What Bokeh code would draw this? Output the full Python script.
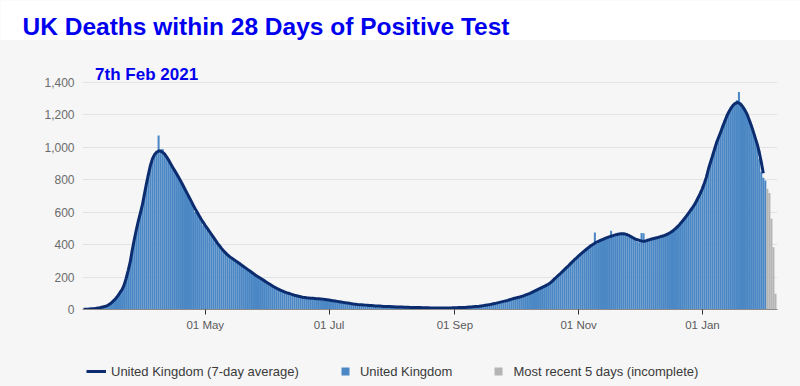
import pandas as pd
from bokeh.plotting import figure
from bokeh.models import (Range1d, FixedTicker, NumeralTickFormatter,
                          DatetimeTickFormatter, Legend, LegendItem, Label)
from bokeh.layouts import column
from bokeh.embed import file_html
from bokeh.resources import INLINE

# ---- data ----
# daily deaths by date of death, 2 Mar 2020 .. 1 Feb 2021 (complete days)
mar_daily = [0, 1, 1, 3, 4, 5, 6, 8, 10, 13, 16, 21, 27, 34, 42, 55, 68, 86, 106, 128,
             158, 190, 236, 288, 355, 425, 480, 540, 600, 650]
apr_daily = [712, 768, 840, 880, 915, 948, 962, 1073, 985, 990, 965, 930, 928, 890, 880,
             852, 828, 818, 780, 762, 745, 710, 690, 660, 650, 602, 605, 575, 548, 520]
may_daily = [522, 488, 470, 468, 450, 420, 412, 385, 370, 365, 352, 330, 332, 310, 305,
             300, 288, 290, 272, 262, 258, 244, 236, 226, 214, 212, 200, 190, 188, 172, 166]
jun_daily = [160, 148, 146, 135, 132, 120, 122, 110, 112, 100, 101, 92, 94, 85, 86,
             80, 79, 74, 76, 70, 72, 68, 72, 65, 68, 63, 67, 60, 64, 57]
jul_daily = [60, 54, 56, 50, 52, 46, 48, 42, 43, 38, 40, 34, 35, 32, 32, 28, 30, 26, 28,
             25, 26, 23, 24, 21, 22, 20, 21, 18, 20, 17, 19]
aug_daily = [16, 18, 15, 17, 14, 16, 13, 15, 13, 14, 12, 14, 11, 13, 11, 12, 10, 12, 10,
             11, 9, 11, 9, 11, 10, 10, 9, 11, 10, 10, 12]
sep_daily = [10, 12, 11, 13, 12, 14, 13, 16, 15, 18, 17, 20, 19, 23, 23, 28, 26, 32, 30,
             37, 36, 43, 42, 49, 48, 55, 53, 63, 62, 70]
oct_daily = [68, 76, 75, 84, 82, 94, 92, 104, 103, 116, 114, 128, 126, 140, 139, 152, 153,
             168, 172, 192, 196, 215, 218, 238, 242, 262, 268, 288, 292, 310, 312]
nov_daily = [322, 345, 350, 366, 372, 388, 385, 404, 475, 405, 420, 432, 428, 440, 438,
             452, 485, 450, 456, 468, 462, 472, 466, 460, 466, 448, 446, 440, 432, 420]
dec_daily = [415, 472, 470, 418, 425, 428, 430, 440, 436, 446, 442, 450, 455, 458, 470,
             468, 485, 488, 505, 512, 535, 540, 565, 570, 590, 605, 625, 650, 672, 700, 728]
jan_daily = [760, 772, 830, 860, 915, 958, 985, 1040, 1060, 1090, 1140, 1165, 1200, 1210,
             1245, 1262, 1266, 1290, 1341, 1275, 1250, 1232, 1200, 1168, 1130, 1105, 1050,
             1000, 930, 850, 812]
feb_daily = [796]
# most recent 5 days (incomplete), 2 Feb .. 6 Feb 2021
recent_daily = [745, 718, 560, 384, 97]

# 7-day average, 2 Mar 2020 .. 31 Jan 2021
mar_avg = [1, 1, 2, 3, 4, 5, 7, 9, 11, 14, 17, 20, 26, 34, 44, 56, 70, 86, 105, 122,
           150, 192, 240, 292, 365, 430, 490, 545, 595, 645]
apr_avg = [710, 775, 835, 890, 930, 955, 970, 977, 977, 970, 958, 940, 920, 898, 876,
           855, 834, 812, 790, 766, 742, 718, 694, 670, 645, 622, 600, 578, 557, 537]
may_avg = [518, 500, 482, 464, 446, 428, 410, 393, 377, 362, 349, 337, 326, 317, 309,
           300, 291, 282, 273, 264, 255, 246, 237, 228, 219, 210, 202, 194, 186, 178, 170]
jun_avg = [162, 154, 146, 139, 132, 126, 120, 114, 109, 104, 100, 96, 92, 88, 85,
           82, 79, 76, 74, 72, 71, 70, 69, 68, 67, 66, 65, 64, 62, 60]
jul_avg = [58, 56, 54, 52, 50, 48, 46, 44, 42, 40, 38, 36, 34, 33, 31, 30, 29, 28, 27,
           26, 25, 24, 23, 22, 21, 21, 20, 19, 19, 18, 18]
aug_avg = [17, 17, 16, 16, 15, 15, 14, 14, 14, 13, 13, 13, 12, 12, 12, 11, 11, 11, 11,
           10, 10, 10, 10, 10, 10, 10, 10, 10, 10, 10, 11]
sep_avg = [11, 11, 12, 12, 13, 13, 14, 15, 16, 17, 18, 19, 20, 22, 24, 26, 28, 30, 32,
           35, 38, 41, 44, 47, 50, 53, 56, 60, 64, 68]
oct_avg = [71, 74, 77, 81, 85, 90, 95, 100, 106, 112, 118, 124, 130, 136, 142, 149, 156,
           164, 175, 187, 199, 211, 222, 234, 246, 258, 270, 283, 295, 308, 319]
nov_avg = [330, 341, 352, 363, 373, 383, 393, 401, 409, 416, 422, 428, 433, 438, 443,
           448, 452, 456, 460, 463, 466, 467, 467, 465, 461, 455, 448, 441, 434, 430]
dec_avg = [426, 423, 421, 423, 427, 431, 435, 438, 441, 444, 448, 452, 455, 460, 466,
           473, 481, 491, 502, 514, 528, 543, 558, 574, 591, 609, 626, 645, 668, 692, 718]
jan_avg = [746, 780, 818, 868, 908, 948, 990, 1030, 1062, 1094, 1128, 1160, 1192, 1218,
           1240, 1258, 1270, 1276, 1274, 1264, 1248, 1228, 1204, 1172, 1138, 1100, 1060,
           1020, 970, 910, 840]

y_ticks = [0, 200, 400, 600, 800, 1000, 1200, 1400]
x_tick_dates = ["2020-05-01", "2020-07-01", "2020-09-01", "2020-11-01", "2021-01-01"]

# ---- assemble ----
daily = (mar_daily + apr_daily + may_daily + jun_daily + jul_daily + aug_daily +
         sep_daily + oct_daily + nov_daily + dec_daily + jan_daily + feb_daily)
avg = (mar_avg + apr_avg + may_avg + jun_avg + jul_avg + aug_avg + sep_avg +
       oct_avg + nov_avg + dec_avg + jan_avg)
dates = pd.date_range("2020-03-02", periods=len(daily), freq="D")
avg_dates = pd.date_range("2020-03-02", periods=len(avg), freq="D")
recent_dates = pd.date_range(dates[-1] + pd.Timedelta(days=1), periods=len(recent_daily), freq="D")

DAY = 86400000
BG = "#f6f6f6"
BAR = "#4a87c4"
LINE = "#0b2c6f"
GREY = "#b4b4b4"
FONT = "Liberation Sans"
W = 800

# ---- header (white band with title) ----
head = figure(width=W, height=40, x_axis_type=None, y_axis_type=None,
              x_range=Range1d(0, 1), y_range=Range1d(0, 1),
              toolbar_location=None, output_backend="svg", min_border=0,
              min_border_left=0, min_border_right=0, min_border_top=0, min_border_bottom=0,
              background_fill_color="white", border_fill_color="white")
head.outline_line_color = None
head.frame_align = False
head.add_layout(Label(x=22, y=14, x_units="screen", y_units="screen",
                      text="UK Deaths within 28 Days of Positive Test",
                      text_font=FONT, text_font_size="24.5px", text_font_style="bold",
                      text_color="#0000ee", text_baseline="alphabetic"))

# ---- main chart ----
x_start = pd.Timestamp("2020-03-01 12:00")
x_end = pd.Timestamp("2021-02-07 00:00")
p = figure(width=W, height=312, x_axis_type="datetime",
           x_range=Range1d(x_start, x_end), y_range=Range1d(0, 1585),
           toolbar_location=None, output_backend="svg",
           min_border_left=82, min_border_right=23, min_border_top=12, min_border_bottom=43,
           background_fill_color=BG, border_fill_color=BG)
p.outline_line_color = None
p.frame_align = False

p.vbar(x=dates, top=daily, width=1.0 * DAY, fill_color=BAR, line_color=None)
p.vbar(x=recent_dates, top=recent_daily, width=1.0 * DAY, fill_color=GREY, line_color=None)
p.line(x=avg_dates, y=avg, line_color=LINE, line_width=3)

p.xgrid.grid_line_color = None
p.ygrid.grid_line_color = "#e3e3e3"
p.ygrid.grid_line_width = 1
p.yaxis.ticker = FixedTicker(ticks=y_ticks)
p.yaxis.formatter = NumeralTickFormatter(format="0,0")
p.yaxis.axis_line_color = None
p.yaxis.major_tick_line_color = None
p.yaxis.minor_tick_line_color = None
p.yaxis.major_tick_out = 0
p.yaxis.major_tick_in = 0
p.yaxis.major_label_standoff = 8
p.yaxis.major_label_text_font = FONT
p.yaxis.major_label_text_font_size = "12px"
p.yaxis.major_label_text_color = "#6b6b6b"

p.xaxis.ticker = FixedTicker(ticks=[pd.Timestamp(d).value // 10**6 for d in x_tick_dates])
p.xaxis.formatter = DatetimeTickFormatter(days="%d %b", months="%d %b", years="%d %b",
                                          hours="%d %b", context=None)
p.xaxis.axis_line_color = "#8a8a8a"
p.xaxis.major_tick_line_color = "#333333"
p.xaxis.minor_tick_line_color = None
p.xaxis.major_tick_out = 5
p.xaxis.major_tick_in = 0
p.xaxis.major_label_standoff = 4
p.xaxis.major_label_text_font = FONT
p.xaxis.major_label_text_font_size = "11.5px"
p.xaxis.major_label_text_color = "#5a5a5a"

p.add_layout(Label(x=12.6, y=235, x_units="screen", y_units="screen",
                   text="7th Feb 2021", text_font=FONT, text_font_size="17px",
                   text_font_style="bold", text_color="#0000ee", text_baseline="alphabetic"))

# ---- legend strip ----
leg = figure(width=W, height=34, x_axis_type=None, y_axis_type=None,
             x_range=Range1d(0, 1), y_range=Range1d(0, 1),
             toolbar_location=None, output_backend="svg", min_border=0,
             background_fill_color=BG, border_fill_color=BG)
leg.outline_line_color = None
leg.frame_align = False
nan = float("nan")
k_line = leg.line(x=[nan, nan], y=[nan, nan], line_color=LINE, line_width=3)
k_blue = leg.scatter(x=[nan], y=[nan], marker="square", size=8, fill_color=BAR, line_color=None)
k_grey = leg.scatter(x=[nan], y=[nan], marker="square", size=8, fill_color=GREY, line_color=None)
legend = Legend(items=[
    LegendItem(label="United Kingdom (7-day average)", renderers=[k_line]),
    LegendItem(label="United Kingdom", renderers=[k_blue]),
    LegendItem(label="Most recent 5 days (incomplete)", renderers=[k_grey]),
], orientation="horizontal", location=(86, 5), padding=0, margin=0, spacing=36,
    glyph_width=20, glyph_height=20, label_height=20, label_standoff=5,
    label_text_font=FONT, label_text_font_size="13px", label_text_color="#3a3a3a",
    background_fill_alpha=0, border_line_alpha=0)
leg.add_layout(legend)

layout = column(head, p, leg, spacing=0, styles={"background-color": BG})
open("out.html", "w").write(file_html(layout, INLINE))
